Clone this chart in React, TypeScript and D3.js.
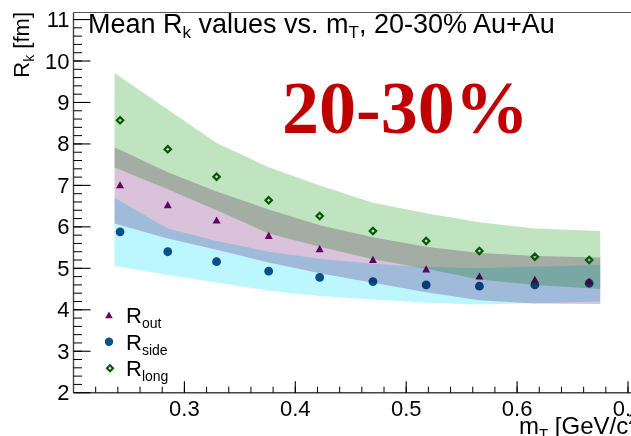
import React from 'react'
import * as d3 from 'd3'

const W = 631
const H = 436
const frame = { left: 73.5, right: 628, top: 12.5, bottom: 392.7 }
const font = '"Liberation Sans", Arial, Helvetica, sans-serif'

// points (m_T in GeV/c^2, radii in fm)
const mT = [0.242, 0.285, 0.329, 0.376, 0.422, 0.470, 0.518, 0.566, 0.616, 0.665]
const rOut = [7.00, 6.52, 6.15, 5.78, 5.46, 5.20, 4.97, 4.80, 4.72, 4.68]
const rSide = [5.88, 5.40, 5.16, 4.93, 4.78, 4.68, 4.60, 4.57, 4.60, 4.64]
const rLong = [8.57, 7.87, 7.21, 6.64, 6.26, 5.90, 5.66, 5.42, 5.28, 5.20]

// systematic bands
const bandMt = [0.237, 0.285, 0.329, 0.376, 0.422, 0.470, 0.518, 0.566, 0.616, 0.675]
const sideHi = [6.70, 5.96, 5.66, 5.40, 5.23, 5.11, 5.03, 5.01, 5.04, 5.08]
const sideLo = [5.06, 4.84, 4.66, 4.46, 4.33, 4.25, 4.17, 4.13, 4.16, 4.20]
const outHi = [7.92, 7.32, 6.85, 6.42, 6.04, 5.75, 5.52, 5.37, 5.30, 5.26]
const outLo = [6.08, 5.72, 5.45, 5.14, 4.88, 4.65, 4.42, 4.23, 4.15, 4.14]
const longHi = [9.71, 8.83, 8.02, 7.44, 7.00, 6.58, 6.33, 6.11, 5.96, 5.90]
const longLo = [7.43, 6.91, 6.40, 5.84, 5.52, 5.22, 4.99, 4.73, 4.60, 4.50]

const xTicks = [0.3, 0.4, 0.5, 0.6, 0.7]
const yTicks = [2, 3, 4, 5, 6, 7, 8, 9, 10, 11]

const colSide = { band: '#bcf6ff', marker: '#0b5088' }
const colOut = { band: '#d9c2da', marker: '#660066' }
const colLong = { band: '#c0e4c0', marker: '#065a06' }

export default function App() {
  const x = d3.scaleLinear().domain([0.2, 0.7]).range([frame.left, frame.right])
  const y = d3.scaleLinear().domain([2, 11.17]).range([frame.bottom, frame.top])

  const band = (hi: number[], lo: number[]) =>
    d3.area<number>()
      .x((d) => x(bandMt[d]))
      .y0((d) => y(lo[d]))
      .y1((d) => y(hi[d]))(d3.range(bandMt.length)) || ''

  const xMinor = d3.range(1, 26).map((i) => 0.2 + i * 0.02)
  const yMinor = d3.range(1, 46).map((i) => 2 + i * 0.2).filter((v) => v < 11.17)

  const tri = (cx: number, cy: number, s: number) =>
    `M${cx},${cy - s}L${cx + s * 0.95},${cy + s * 0.7}L${cx - s * 0.95},${cy + s * 0.7}Z`
  const diamond = (cx: number, cy: number, s: number) =>
    `M${cx},${cy - s}L${cx + s},${cy}L${cx},${cy + s}L${cx - s},${cy}Z`

  const legend = [
    { label: 'out', y: 323 },
    { label: 'side', y: 349.5 },
    { label: 'long', y: 376 },
  ]

  return (
    <svg width={W} height={H} style={{ position: 'absolute', left: 0, top: 0, background: '#fff' }}
      fontFamily={font}>
      <rect width={W} height={H} fill="#fff" />

      {/* side */}
      <path d={band(sideHi, sideLo)} fill={colSide.band} style={{ mixBlendMode: 'multiply' }} />
      {mT.map((m, i) => (
        <circle key={'s' + i} cx={x(m)} cy={y(rSide[i])} r={4.4} fill={colSide.marker} />
      ))}

      {/* out */}
      <path d={band(outHi, outLo)} fill={colOut.band} style={{ mixBlendMode: 'multiply' }} />
      {mT.map((m, i) => (
        <path key={'o' + i} d={tri(x(m), y(rOut[i]), 4.2)} fill={colOut.marker} />
      ))}

      {/* long */}
      <path d={band(longHi, longLo)} fill={colLong.band} style={{ mixBlendMode: 'multiply' }} />
      {mT.map((m, i) => (
        <path key={'l' + i} d={diamond(x(m), y(rLong[i]), 3.2)} fill="none"
          stroke={colLong.marker} strokeWidth={2.2} />
      ))}

      {/* frame */}
      <line x1={frame.left} x2={W} y1={frame.top} y2={frame.top} stroke="#555" strokeWidth={1.2} />
      <line x1={frame.left} x2={frame.left} y1={frame.top} y2={frame.bottom} stroke="#444" strokeWidth={1.4} />
      <line x1={frame.left} x2={W} y1={frame.bottom} y2={frame.bottom} stroke="#444" strokeWidth={1.4} />

      {yTicks.map((t) => (
        <g key={'yt' + t}>
          <line x1={frame.left} x2={frame.left + 17} y1={y(t)} y2={y(t)} stroke="#000" strokeWidth={1.1} />
          <text x={frame.left - 4} y={y(t) + 7.5} textAnchor="end" fontSize={22}>{t}</text>
        </g>
      ))}
      {yMinor.map((t, i) => (
        <line key={'ym' + i} x1={frame.left} x2={frame.left + 8.5} y1={y(t)} y2={y(t)} stroke="#000" strokeWidth={1} />
      ))}

      {xTicks.map((t) => (
        <g key={'xt' + t}>
          <line x1={x(t)} x2={x(t)} y1={frame.bottom} y2={frame.bottom - 11.5} stroke="#000" strokeWidth={1.1} />
          <text x={x(t)} y={frame.bottom + 23} textAnchor="middle" fontSize={22}>{t.toFixed(1)}</text>
        </g>
      ))}
      {xMinor.map((t, i) => (
        <line key={'xm' + i} x1={x(t)} x2={x(t)} y1={frame.bottom} y2={frame.bottom - 6} stroke="#000" strokeWidth={1} />
      ))}

      {/* axis titles */}
      <text x={519} y={434} fontSize={24}>
        m<tspan fontSize={15} dy={5}>T</tspan><tspan dy={-5}> [GeV/c</tspan><tspan fontSize={15} dy={-10}>2</tspan><tspan dy={10}>]</tspan>
      </text>
      <text transform="rotate(-90)" x={-12} y={29} textAnchor="end" fontSize={22}>
        R<tspan fontSize={14} dy={5}>k</tspan><tspan dy={-5}> [fm]</tspan>
      </text>

      {/* title */}
      <text x={88} y={33} fontSize={27}>
        Mean R<tspan fontSize={17} dy={5}>k</tspan><tspan dy={-5}> values vs. m</tspan><tspan fontSize={17} dy={5}>T</tspan><tspan dy={-5}>, 20-30% Au+Au</tspan>
      </text>

      <text x={282} y={133} fontSize={74} fontWeight="bold" fill="#c00000"
        fontFamily='"Liberation Serif", "Times New Roman", serif'>20-30%</text>

      {/* legend */}
      <path d={tri(109, 315.5, 4)} fill={colOut.marker} />
      <circle cx={109} cy={341.7} r={4.2} fill={colSide.marker} />
      <path d={diamond(110, 368.3, 3)} fill="none" stroke={colLong.marker} strokeWidth={2.1} />
      {legend.map((l) => (
        <text key={l.label} x={126} y={l.y} fontSize={22}>
          R<tspan fontSize={14} dy={5}>{l.label}</tspan>
        </text>
      ))}
    </svg>
  )
}
